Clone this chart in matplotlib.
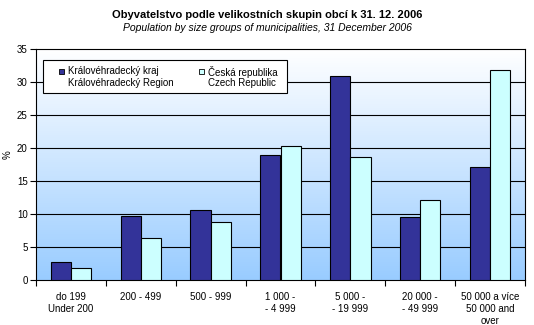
import matplotlib
matplotlib.use("Agg")
import matplotlib.pyplot as plt
import numpy as np
from matplotlib.patches import Rectangle

plt.rcParams['font.family'] = ['Liberation Sans', 'DejaVu Sans']

categories = ["do 199\nUnder 200", "200 - 499", "500 - 999", "1 000 -\n- 4 999",
              "5 000 -\n- 19 999", "20 000 -\n- 49 999", "50 000 a více\n50 000 and\nover"]
region = [2.7, 9.7, 10.6, 19.0, 31.0, 9.5, 17.2]
czech = [1.8, 6.3, 8.8, 20.3, 18.6, 12.1, 31.9]
series_labels = ["Královéhradecký kraj\nKrálovéhradecký Region", "Česká republika\nCzech Republic"]
series_colors = ['#333399', '#CCFFFF']
yticks = [0, 5, 10, 15, 20, 25, 30, 35]

W, H = 534, 325
fig = plt.figure(figsize=(W/100, H/100), dpi=100)
ax = fig.add_axes([36/W, 45/H, 489/W, 230.7/H])

def fx(px):
    return px / W

def fy(py):
    return 1 - py / H

# gradient background
grad = np.linspace(0, 1, 256).reshape(-1, 1)
top = np.array([1.0, 1.0, 1.0])
bot = np.array([0.60, 0.80, 1.0])
img = top[None, None, :] * (1 - grad[:, :, None]) + bot[None, None, :] * grad[:, :, None]
ax.imshow(img, extent=[0, 1, 0, 1], transform=ax.transAxes, aspect='auto', zorder=0)

x = np.arange(len(categories))
w = 0.29
ax.bar(x - w/2, region, w, color=series_colors[0], edgecolor='black', linewidth=0.8, zorder=3)
ax.bar(x + w/2, czech, w, color=series_colors[1], edgecolor='black', linewidth=0.8, zorder=3)

ax.set_xlim(-0.5, len(categories) - 0.5)
ax.set_ylim(0, 35)
ax.set_yticks(yticks)
ax.set_yticklabels([str(t) for t in yticks], fontsize=7)
for t in yticks[1:-1]:
    ax.axhline(t, color='black', linewidth=0.8, zorder=1)

ax.set_xticks(np.arange(len(categories) + 1) - 0.5)
ax.set_xticklabels([])
ax.set_xticks(x, minor=True)
ax.set_xticklabels(categories, minor=True, fontsize=7, linespacing=1.2, va='top')
ax.tick_params(axis='x', which='minor', length=0, pad=9)
ax.tick_params(axis='x', which='major', length=4, direction='out', width=0.8)
ax.tick_params(axis='y', length=4, direction='out', width=0.8, pad=2)

for s in ax.spines.values():
    s.set_linewidth(0.8)

fig.text(fx(8), fy(155), '%', rotation=90, ha='center', va='center', fontsize=7)

# legend (manual, figure pixel coords)
fig.patches.append(Rectangle((fx(43), fy(93)), fx(287) - fx(43), fy(60) - fy(93),
                             transform=fig.transFigure, facecolor='white',
                             edgecolor='black', linewidth=0.8, zorder=5))
leg_x = [59, 199]
for lx, lab, col in zip(leg_x, series_labels, series_colors):
    fig.patches.append(Rectangle((fx(lx), fy(74)), fx(5), fy(69) - fy(74),
                                 transform=fig.transFigure, facecolor=col,
                                 edgecolor='black', linewidth=0.6, zorder=6))
    l1, l2 = lab.split('\n')
    fig.text(fx(lx + 9), fy(71.5), l1, ha='left', va='center', fontsize=7, zorder=7)
    fig.text(fx(lx + 9), fy(82.5), l2, ha='left', va='center', fontsize=7, zorder=7)

fig.text(0.5, fy(15), "Obyvatelstvo podle velikostních skupin obcí k 31. 12. 2006",
         ha='center', va='center', fontsize=8, fontweight='bold')
fig.text(0.5, fy(28), "Population by size groups of municipalities, 31 December 2006",
         ha='center', va='center', fontsize=7.5, style='italic')

fig.savefig('out.png', dpi=100)
